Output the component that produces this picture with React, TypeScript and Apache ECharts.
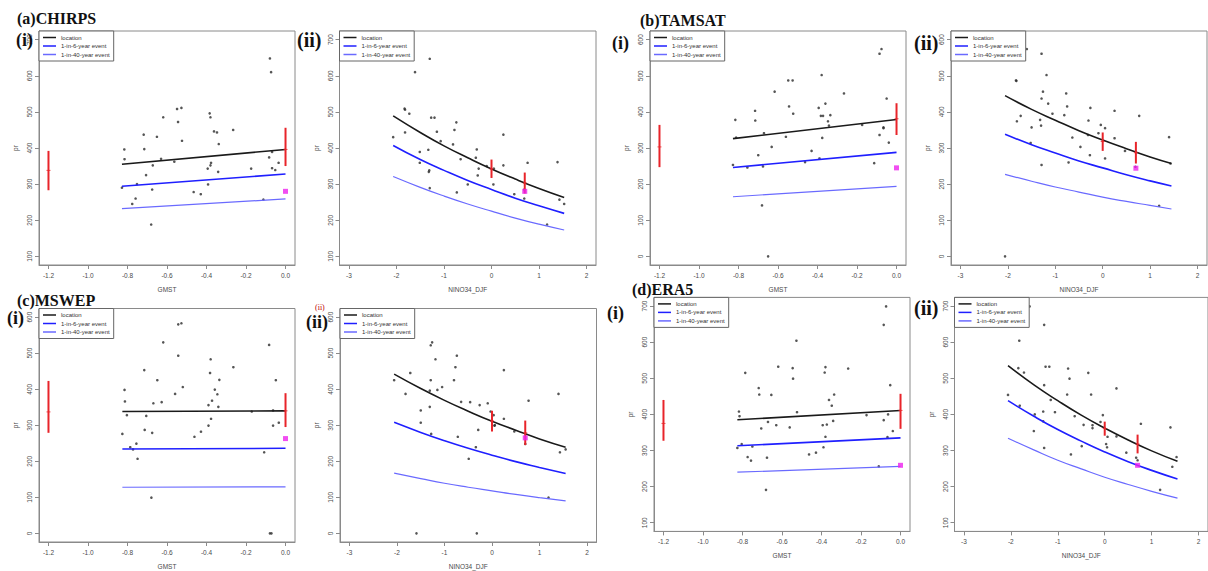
import React, { useEffect, useRef } from "react";
import * as echarts from "echarts";

// ---- tick labels ----
const gmstTicks = [-1.2, -1.0, -0.8, -0.6, -0.4, -0.2, 0.0];
const ninoTicks = [-3, -2, -1, 0, 1, 2];
const prTicksFrom100 = [100, 200, 300, 400, 500, 600, 700];
const prTicksFrom0 = [0, 100, 200, 300, 400, 500, 600];
const legendNames = ["location", "1-in-6-year event", "1-in-40-year event"];

// ---- (a) CHIRPS ----
const a1Points = [[-0.079,648],[-0.073,610],[-0.549,508],[-0.527,511],[-0.619,485],[-0.544,472],[-0.384,496],[-0.380,485],[-0.265,450],[-0.362,446],[-0.347,443],[-0.718,437],[-0.651,431],[-0.524,420],[-0.816,396],[-0.715,397],[-0.338,411],[-0.815,369],[-0.630,370],[-0.563,362],[-0.083,374],[-0.068,389],[-0.377,359],[-0.380,352],[-0.672,352],[-0.035,359],[-0.068,344],[-0.052,339],[-0.394,343],[-0.174,343],[-0.341,334],[-0.706,325],[-0.828,290],[-0.752,300],[-0.392,299],[-0.675,285],[-0.759,260],[-0.776,245],[-0.465,278],[-0.429,272],[-0.112,257],[-0.680,188]];
const a1Loc = [[-0.828,355],[0,396]];
const a1Six = [[-0.828,294],[0,328]];
const a1Forty = [[-0.828,232],[0,259]];
const a1Bars = [[-1.2,283,392,338],[0,350,456,396]];
const a1Obs = [[0,280]];

const a2Points = [[-1.30,647],[-1.61,610],[-1.83,509],[-1.82,506],[-1.73,495],[-1.27,484],[-1.20,484],[-0.74,471],[-0.78,450],[-1.15,445],[-1.82,443],[-2.07,430],[0.25,437],[-1.07,419],[-0.81,410],[-0.31,396],[-1.51,389],[-1.33,395],[-0.65,369],[-0.33,373],[-0.10,350],[0.25,352],[0.05,343],[-0.27,343],[0.76,359],[1.39,361],[-1.51,359],[-1.31,338],[-1.32,334],[-0.29,324],[0.04,299],[-0.50,299],[-1.30,289],[-0.73,277],[0.48,272],[0.69,285],[0.69,260],[1.43,257],[1.53,245],[1.17,188]];
const a2Loc = [[-2.07,489],[-1.5,443],[-1,406],[-0.5,373],[0,342],[0.5,314],[1,288],[1.53,263]];
const a2Six = [[-2.07,407],[-1.5,368],[-1,338],[-0.5,310],[0,285],[0.5,261],[1,240],[1.53,219]];
const a2Forty = [[-2.07,321],[-1.5,291],[-1,267],[-0.5,245],[0,225],[0.5,206],[1,189],[1.53,173]];
const a2Bars = [[0,317,368,342],[0.7,274,332,303]];
const a2Obs = [[0.7,280]];

// ---- (b) TAMSAT ----
const b1Points = [[-0.076,574],[-0.086,561],[-0.379,502],[-0.548,487],[-0.526,487],[-0.617,456],[-0.266,451],[-0.05,437],[-0.36,423],[-0.544,415],[-0.394,411],[-0.716,403],[-0.523,395],[-0.335,391],[-0.383,389],[-0.372,389],[-0.816,378],[-0.715,376],[-0.347,374],[-0.342,362],[-0.174,364],[-0.066,357],[-0.066,355],[-0.671,341],[-0.086,336],[-0.56,331],[-0.376,328],[-0.812,329],[-0.039,315],[-0.632,303],[-0.43,292],[-0.7,280],[-0.39,271],[-0.463,261],[-0.113,258],[-0.828,253],[-0.755,246],[-0.676,249],[-0.681,141],[-0.65,0]];
const b1Loc = [[-0.828,326],[0,379]];
const b1Six = [[-0.828,246],[0,288]];
const b1Forty = [[-0.828,165],[0,194]];
const b1Bars = [[-1.2,247,364,303],[0,336,424,381]];
const b1Obs = [[0,245]];

const b2Points = [[-1.60,574],[-1.29,561],[-1.185,502],[-1.83,487],[-1.82,486],[-1.26,456],[-0.77,451],[-1.29,437],[-1.15,423],[-0.75,415],[-0.26,411],[0.25,403],[-1.06,395],[-0.81,391],[-1.73,389],[0.77,389],[-0.30,376],[-1.81,374],[-1.32,378],[-0.04,364],[-1.30,362],[-1.50,357],[0.05,355],[-0.09,341],[-0.31,336],[-0.64,329],[0.25,327],[1.40,330],[-1.52,314],[-0.47,303],[0.47,292],[-0.27,280],[0.05,271],[-0.72,260],[1.43,257],[-1.29,253],[0.69,248],[1.19,140],[-2.06,0]];
const b2Loc = [[-2.06,445],[-1.5,407],[-1,377],[-0.5,348],[0,322],[0.5,298],[1,275],[1.45,257]];
const b2Six = [[-2.06,338],[-1.5,309],[-1,286],[-0.5,264],[0,245],[0.5,226],[1,209],[1.45,195]];
const b2Forty = [[-2.06,227],[-1.5,208],[-1,192],[-0.5,178],[0,164],[0.5,152],[1,141],[1.45,131]];
const b2Bars = [[0,292,343,318],[0.7,257,317,287]];
const b2Obs = [[0.7,244]];

// ---- (c) MSWEP ----
const c1Points = [[-0.543,580],[-0.527,583],[-0.619,530],[-0.083,523],[-0.543,493],[-0.379,483],[-0.264,461],[-0.715,453],[-0.382,445],[-0.649,425],[-0.335,426],[-0.049,425],[-0.52,406],[-0.815,398],[-0.358,399],[-0.559,387],[-0.345,386],[-0.813,366],[-0.669,361],[-0.627,364],[-0.372,368],[-0.39,356],[-0.34,351],[-0.063,341],[-0.171,338],[-0.803,328],[-0.705,326],[-0.377,318],[-0.034,307],[-0.063,299],[-0.39,299],[-0.713,287],[-0.826,276],[-0.675,279],[-0.428,282],[-0.461,268],[-0.755,249],[-0.786,239],[-0.772,233],[-0.749,207],[-0.108,225],[-0.679,99],[-0.079,0],[-0.071,0]];
const c1Loc = [[-0.826,338],[0,340]];
const c1Six = [[-0.826,234],[0,236]];
const c1Forty = [[-0.826,128],[0,129]];
const c1Bars = [[-1.2,279,423,337],[0,295,389,340]];
const c1Obs = [[0,263]];

const c2Points = [[-1.26,530],[-1.29,522],[-0.74,493],[-1.19,483],[-0.77,461],[0.25,453],[-1.72,445],[-2.06,425],[-1.29,425],[-0.80,425],[-1.05,406],[-1.82,387],[-1.15,398],[-1.31,396],[1.40,387],[0.77,368],[-0.65,365],[-0.46,364],[-0.26,356],[-0.09,361],[-1.31,351],[-0.03,338],[-1.50,341],[0.035,328],[0.25,318],[-1.50,307],[0.05,299],[0.06,300],[-0.29,287],[0.47,283],[-1.28,276],[-0.72,268],[0.70,248],[-0.34,239],[-0.49,207],[1.43,225],[1.55,233],[1.19,99],[-1.59,0],[-0.32,0]];
const c2Loc = [[-2.06,442],[-1.5,402],[-1,369],[-0.5,339],[0,311],[0.5,286],[1,262],[1.55,239]];
const c2Six = [[-2.06,308],[-1.5,280],[-1,257],[-0.5,236],[0,217],[0.5,199],[1,183],[1.55,166]];
const c2Forty = [[-2.06,167],[-1.5,152],[-1,139],[-0.5,128],[0,118],[0.5,108],[1,99],[1.55,90]];
const c2Bars = [[0,283,340,312],[0.7,245,313,279]];
const c2Obs = [[0.7,265]];

// ---- (d) ERA5 ----
const d1Points = [[-0.073,699],[-0.085,648],[-0.527,604],[-0.619,532],[-0.380,531],[-0.546,528],[-0.265,527],[-0.786,515],[-0.384,516],[-0.544,499],[-0.052,481],[-0.718,473],[-0.715,455],[-0.336,455],[-0.654,454],[-0.362,440],[-0.348,424],[-0.524,406],[-0.818,408],[-0.815,395],[-0.172,398],[-0.063,400],[-0.085,384],[-0.671,379],[-0.341,382],[-0.373,372],[-0.629,370],[-0.394,370],[-0.705,361],[-0.561,364],[-0.039,354],[-0.380,338],[-0.066,337],[-0.804,318],[-0.826,307],[-0.75,311],[-0.39,309],[-0.463,289],[-0.428,294],[-0.774,282],[-0.757,272],[-0.676,280],[-0.11,256],[-0.681,191]];
const d1Loc = [[-0.826,385],[0,411]];
const d1Six = [[-0.826,313],[0,335]];
const d1Forty = [[-0.826,240],[0,256]];
const d1Bars = [[-1.2,327,440,375],[0,360,457,411]];
const d1Obs = [[0,259]];

const d2Points = [[-1.60,699],[-1.29,648],[-1.82,604],[-1.84,528],[-1.26,532],[-1.18,532],[-0.78,527],[-1.72,516],[-0.35,515],[-0.75,499],[-1.29,481],[0.25,472],[-2.06,454],[-0.80,455],[-0.29,455],[-1.15,440],[-1.81,424],[-1.31,408],[-1.06,406],[-0.04,398],[-1.49,400],[-0.64,395],[0.77,374],[-0.09,379],[1.40,364],[-0.45,371],[-0.26,370],[-0.26,362],[-1.51,354],[0.06,338],[0.25,339],[-1.31,381],[0.03,318],[0.05,309],[-0.49,312],[-1.29,307],[-0.72,289],[0.46,294],[0.67,280],[0.70,273],[1.53,282],[1.44,255],[1.18,191]];
const d2Loc = [[-2.06,535],[-1.5,481],[-1,438],[-0.5,398],[0,362],[0.5,329],[1,299],[1.55,270]];
const d2Six = [[-2.06,438],[-1.5,394],[-1,358],[-0.5,326],[0,296],[0.5,269],[1,245],[1.55,221]];
const d2Forty = [[-2.06,334],[-1.5,301],[-1,273],[-0.5,249],[0,226],[0.5,206],[1,187],[1.55,168]];
const d2Bars = [[0,341,380,361],[0.7,292,344,318]];
const d2Obs = [[0.7,259]];

// ---- panel layout ----
type Panel = {
  grid: { left: number; top: number; width: number; height: number };
  kind: "gmst" | "nino";
  yTicks: number[];
  yMin: number; yMax: number;
  points: number[][]; loc: number[][]; six: number[][]; forty: number[][];
  bars: number[][]; obs: number[][];
};

const panels: Panel[] = [
  { grid: { left: 39, top: 31, width: 256, height: 234 }, kind: "gmst", yTicks: prTicksFrom100, yMin: 76, yMax: 724, points: a1Points, loc: a1Loc, six: a1Six, forty: a1Forty, bars: a1Bars, obs: a1Obs },
  { grid: { left: 339.5, top: 31, width: 256.5, height: 234 }, kind: "nino", yTicks: prTicksFrom100, yMin: 76, yMax: 724, points: a2Points, loc: a2Loc, six: a2Six, forty: a2Forty, bars: a2Bars, obs: a2Obs },
  { grid: { left: 650, top: 31, width: 256, height: 234 }, kind: "gmst", yTicks: prTicksFrom0, yMin: -24, yMax: 624, points: b1Points, loc: b1Loc, six: b1Six, forty: b1Forty, bars: b1Bars, obs: b1Obs },
  { grid: { left: 951, top: 31, width: 256, height: 234 }, kind: "nino", yTicks: prTicksFrom0, yMin: -24, yMax: 624, points: b2Points, loc: b2Loc, six: b2Six, forty: b2Forty, bars: b2Bars, obs: b2Obs },
  { grid: { left: 39, top: 308.5, width: 256, height: 234.2 }, kind: "gmst", yTicks: prTicksFrom0, yMin: -24, yMax: 624, points: c1Points, loc: c1Loc, six: c1Six, forty: c1Forty, bars: c1Bars, obs: c1Obs },
  { grid: { left: 340, top: 308.5, width: 256.5, height: 234.2 }, kind: "nino", yTicks: prTicksFrom0, yMin: -24, yMax: 624, points: c2Points, loc: c2Loc, six: c2Six, forty: c2Forty, bars: c2Bars, obs: c2Obs },
  { grid: { left: 654, top: 297.4, width: 256, height: 234 }, kind: "gmst", yTicks: prTicksFrom100, yMin: 76, yMax: 724, points: d1Points, loc: d1Loc, six: d1Six, forty: d1Forty, bars: d1Bars, obs: d1Obs },
  { grid: { left: 954.5, top: 297.4, width: 256.5, height: 234 }, kind: "nino", yTicks: prTicksFrom100, yMin: 76, yMax: 724, points: d2Points, loc: d2Loc, six: d2Six, forty: d2Forty, bars: d2Bars, obs: d2Obs },
];

const SANS = '"Liberation Sans", Arial, sans-serif';
const SERIF = '"Liberation Serif", "DejaVu Serif", serif';
const FRAME = "#8a8a8a";
const TXT = "#4a4a4a";
const LOC_COLOR = "#1a1a1a";
const SIX_COLOR = "#1f1fff";
const FORTY_COLOR = "#6a6aff";

function buildOption() {
  const grids: any[] = [];
  const xAxes: any[] = [];
  const yAxes: any[] = [];
  const series: any[] = [];
  const legends: any[] = [];

  panels.forEach((p, i) => {
    grids.push({ ...p.grid, show: true, borderColor: FRAME, borderWidth: 1, backgroundColor: "transparent" });
    const isG = p.kind === "gmst";
    const xt = isG ? gmstTicks : ninoTicks;
    xAxes.push({
      gridIndex: i, type: "value",
      min: isG ? -1.248 : -3.2, max: isG ? 0.048 : 2.2,
      name: isG ? "GMST" : "NINO34_DJF", nameLocation: "middle", nameGap: 21,
      nameTextStyle: { fontSize: 6.5, color: TXT, fontFamily: SANS },
      axisLine: { show: true, onZero: false, lineStyle: { color: FRAME, width: 1 } },
      axisTick: { show: true, length: 4, lineStyle: { color: FRAME }, customValues: xt },
      axisLabel: { show: true, customValues: xt, fontSize: 6.5, color: TXT, fontFamily: SANS, margin: 7,
        formatter: (v: number) => (isG ? v.toFixed(1) : String(Math.round(v))) },
      splitLine: { show: false },
    });
    yAxes.push({
      gridIndex: i, type: "value", min: p.yMin, max: p.yMax,
      name: "pr", nameLocation: "middle", nameGap: 20, nameRotate: 90,
      nameTextStyle: { fontSize: 6.5, color: TXT, fontFamily: SANS },
      axisLine: { show: true, onZero: false, lineStyle: { color: FRAME, width: 1 } },
      axisTick: { show: true, length: 4, lineStyle: { color: FRAME }, customValues: p.yTicks },
      axisLabel: { show: true, customValues: p.yTicks, fontSize: 6.5, color: TXT, fontFamily: SANS, rotate: 90, margin: 6 },
      splitLine: { show: false },
    });

    series.push({
      type: "scatter", xAxisIndex: i, yAxisIndex: i, data: p.points,
      symbol: "circle", symbolSize: 2.6, itemStyle: { color: "#2a2a2a" }, silent: true, z: 3,
    });
    const smooth = isG ? false : true;
    series.push({
      type: "line", name: legendNames[0], xAxisIndex: i, yAxisIndex: i, data: p.loc, smooth,
      symbol: "none", showSymbol: false, lineStyle: { color: LOC_COLOR, width: 1.6 }, itemStyle: { color: LOC_COLOR }, z: 4,
    });
    series.push({
      type: "line", name: legendNames[1], xAxisIndex: i, yAxisIndex: i, data: p.six, smooth,
      symbol: "none", showSymbol: false, lineStyle: { color: SIX_COLOR, width: 1.6 }, itemStyle: { color: SIX_COLOR }, z: 4,
    });
    series.push({
      type: "line", name: legendNames[2], xAxisIndex: i, yAxisIndex: i, data: p.forty, smooth,
      symbol: "none", showSymbol: false, lineStyle: { color: FORTY_COLOR, width: 1.2 }, itemStyle: { color: FORTY_COLOR }, z: 4,
    });
    series.push({
      type: "custom", xAxisIndex: i, yAxisIndex: i, data: p.bars, encode: { x: 0, y: [1, 2] }, z: 5, silent: true,
      renderItem: (params: any, api: any) => {
        const x = api.value(0);
        const lo = api.coord([x, api.value(1)]);
        const hi = api.coord([x, api.value(2)]);
        const mid = api.coord([x, api.value(3)]);
        return {
          type: "group",
          children: [
            { type: "line", shape: { x1: lo[0], y1: lo[1], x2: hi[0], y2: hi[1] }, style: { stroke: "#e8242a", lineWidth: 2 } },
            { type: "line", shape: { x1: mid[0] - 2, y1: mid[1], x2: mid[0] + 2, y2: mid[1] }, style: { stroke: "#e8242a", lineWidth: 0.8 } },
          ],
        };
      },
    });
    series.push({
      type: "scatter", xAxisIndex: i, yAxisIndex: i, data: p.obs,
      symbol: "rect", symbolSize: 5, itemStyle: { color: "#ee22ee" }, silent: true, z: 6,
    });

    legends.push({
      data: legendNames.map((n) => ({ name: n, icon: "rect" })),
      orient: "vertical", left: p.grid.left, top: p.grid.top,
      itemWidth: 13, itemHeight: 1.5, itemGap: 1.5, padding: [3, 4, 3, 4],
      borderColor: "#666", borderWidth: 1, backgroundColor: "#fff",
      textStyle: { fontSize: 6, lineHeight: 7, color: "#333", fontFamily: SANS },
      selectedMode: false,
    });
  });

  const label = (text: string, x: number, y: number, size: number, color = "#111", weight = "bold") => ({
    type: "text", x, y, z: 100,
    style: { text, font: `${weight} ${size}px ${SERIF}`, fill: color, align: "left", verticalAlign: "middle" },
  });

  const graphic = [
    label("(a)CHIRPS", 17, 18, 16),
    label("(i)", 16, 40, 18),
    label("(ii)", 297, 40, 20),
    label("(b)TAMSAT", 640, 20, 16),
    label("(i)", 612, 43, 18),
    label("(ii)", 914, 43, 20),
    label("(c)MSWEP", 17, 300, 16),
    label("(i)", 7, 318, 18),
    label("(ii)", 306, 322, 18),
    label("(ii)", 315, 307, 8, "#c00000", "normal"),
    label("(d)ERA5", 632, 289, 16),
    label("(i)", 607, 313, 18),
    label("(ii)", 914, 308, 20),
  ];

  return {
    animation: false,
    backgroundColor: "#ffffff",
    grid: grids,
    xAxis: xAxes,
    yAxis: yAxes,
    legend: legends,
    series,
    graphic,
  };
}

export default function App() {
  const ref = useRef<HTMLDivElement>(null);
  useEffect(() => {
    if (!ref.current) return;
    const chart = echarts.init(ref.current, undefined, { renderer: "svg" });
    chart.setOption(buildOption() as any);
    return () => chart.dispose();
  }, []);
  return (
    <div
      ref={ref}
      style={{ position: "absolute", left: 0, top: 0, width: 1208, height: 571, background: "#fff" }}
    />
  );
}
